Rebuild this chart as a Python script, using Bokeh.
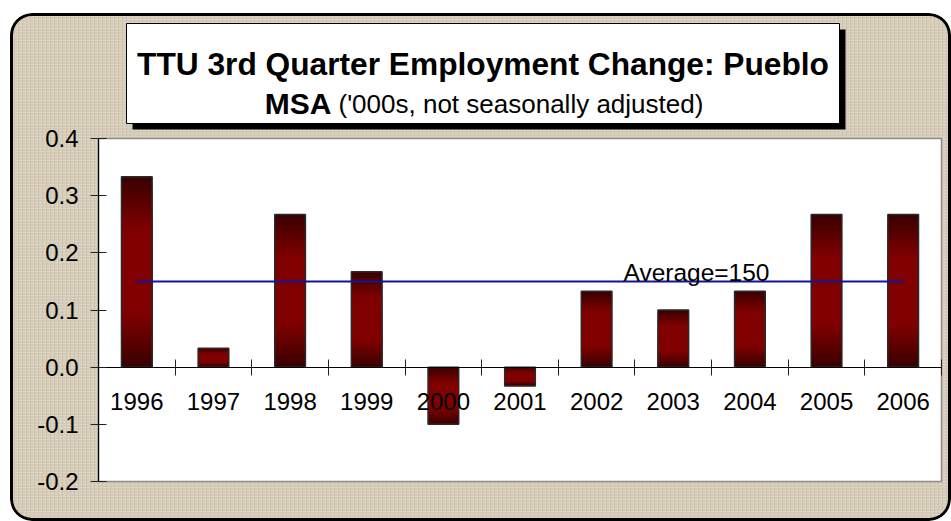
from bokeh.plotting import figure
from bokeh.models import Range1d, FixedTicker, NumeralTickFormatter, Label, ColumnDataSource
from bokeh.embed import file_html
from bokeh.resources import INLINE

# ---- data ----
years = ["1996", "1997", "1998", "1999", "2000", "2001", "2002", "2003", "2004", "2005", "2006"]
changes = [0.333, 0.033, 0.267, 0.167, -0.100, -0.033, 0.133, 0.100, 0.133, 0.267, 0.267]
average = 0.15
average_text = "Average=150"
y_ticks = [-0.2, -0.1, 0.0, 0.1, 0.2, 0.3, 0.4]
title_line1 = "TTU 3rd Quarter Employment Change: Pueblo"
title_line2_bold = "MSA"
title_line2_rest = "('000s, not seasonally adjusted)"

FONT = "Liberation Sans"
n = len(years)
xpos = list(range(1, n + 1))

# ---- layout (page pixels) ----
PANEL_L, PANEL_T = 10, 13          # panel offset on the page
W, H = 951 - PANEL_L, 521 - PANEL_T
PA_L, PA_R, PA_T, PA_B = 98, 941, 138, 481   # plot area on the page
x_lo, x_hi = 0.5, n + 0.5
y_lo, y_hi = y_ticks[0], y_ticks[-1]
ppx = (PA_R - PA_L) / (x_hi - x_lo)
ppy = (PA_B - PA_T) / (y_hi - y_lo)


def X(px):
    return x_lo + (px - PA_L) / ppx


def Y(py):
    return y_hi - (py - PA_T) / ppy


texture = ("repeating-linear-gradient(90deg, rgba(120,100,70,0.10) 0px, rgba(120,100,70,0.10) 1px, "
           "transparent 1px, transparent 4px), "
           "repeating-linear-gradient(0deg, rgba(255,255,255,0.18) 0px, rgba(255,255,255,0.18) 1px, "
           "transparent 1px, transparent 3px), #d6ccb7")

p = figure(width=W, height=H, output_backend="svg", toolbar_location=None,
           x_range=Range1d(X(PANEL_L), X(951)), y_range=Range1d(Y(521), Y(PANEL_T)),
           min_border=0, min_border_left=0, min_border_right=0,
           min_border_top=0, min_border_bottom=0)
p.margin = (PANEL_T, 0, 0, PANEL_L)
p.styles = {"border-radius": "22px", "overflow": "hidden", "background": texture,
            "box-shadow": "inset 0 0 0 3px black"}
p.border_fill_color = None
p.background_fill_color = None
p.outline_line_color = None
p.xgrid.visible = False
p.ygrid.visible = False

# plot area
p.quad(left=[x_lo], right=[x_hi], bottom=[y_lo], top=[y_hi], fill_color="white",
       line_color="#8c8c8c", line_width=1.5)

# gradient bars: nested layers from the zero line outward (largest first)
n_slices = 30
sx, st, sc = [], [], []
dark = (0x38, 0x00, 0x00)
bright = (0x80, 0x00, 0x00)
for x, v in zip(xpos, changes):
    for k in reversed(range(n_slices)):
        t0, t1 = k / n_slices, (k + 1) / n_slices
        mid = (t0 + t1) / 2
        f = min(1.0, 1.8 * (1 - abs(2 * mid - 1)))
        col = tuple(int(d + (b - d) * f) for d, b in zip(dark, bright))
        sx.append(x)
        st.append(v * t1)
        sc.append("#%02x%02x%02x" % col)
p.vbar(x=sx, bottom=0, top=st, width=0.4, fill_color=sc, line_color=None)
src = ColumnDataSource(dict(x=xpos, top=changes))
p.vbar(x="x", top="top", bottom=0, width=0.4, source=src, fill_color=None,
       line_color="#2a2a2a", line_width=1.5)

# average line
p.line(x=[xpos[0], xpos[-1]], y=[average, average], line_color="#12129c", line_width=2)
p.add_layout(Label(x=X(623), y=Y(272), text=average_text, text_align="left",
                   text_baseline="alphabetic", text_font=FONT, text_font_size="24.5px",
                   text_color="black"))

# y axis on the plot-area edge
ya = p.yaxis[0]
ya.fixed_location = x_lo
ya.bounds = (y_lo, y_hi)
ya.ticker = FixedTicker(ticks=y_ticks)
ya.formatter = NumeralTickFormatter(format="0.0")
ya.axis_line_color = "black"
ya.axis_line_width = 1.2
ya.major_tick_in = 8
ya.major_tick_out = 8
ya.major_tick_line_color = "#222222"
ya.minor_tick_line_color = None
ya.major_label_standoff = 12
ya.major_label_text_font = FONT
ya.major_label_text_font_size = "24px"
ya.major_label_text_color = "black"

# x axis on the zero line: labels at categories, ticks between them
boundaries = [i + 0.5 for i in range(n + 1)]
xa = p.xaxis[0]
xa.fixed_location = 0
xa.bounds = (x_lo, x_hi)
xa.ticker = FixedTicker(ticks=xpos, minor_ticks=boundaries)
xa.major_label_overrides = {x: y for x, y in zip(xpos, years)}
xa.major_tick_line_color = None
xa.major_tick_in = 0
xa.major_tick_out = 0
xa.minor_tick_in = 8
xa.minor_tick_out = 8
xa.minor_tick_line_color = "#222222"
xa.axis_line_color = "black"
xa.axis_line_width = 1.2
xa.major_label_standoff = 18
xa.major_label_text_font = FONT
xa.major_label_text_font_size = "24px"
xa.major_label_text_color = "black"

# title box: shadow + white box
p.quad(left=[X(132)], right=[X(845)], top=[Y(29)], bottom=[Y(129)],
       fill_color="black", line_color=None)
p.quad(left=[X(126)], right=[X(839)], top=[Y(23)], bottom=[Y(123)],
       fill_color="white", line_color="black", line_width=1)
p.add_layout(Label(x=X(482.5), y=Y(63), text=title_line1,
                   text_align="center", text_baseline="alphabetic", text_font=FONT,
                   text_font_size="31.7px", text_font_style="bold", text_color="black"))
p.add_layout(Label(x=X(331), y=Y(103), text=title_line2_bold,
                   text_align="right", text_baseline="alphabetic", text_font=FONT,
                   text_font_size="30px", text_font_style="bold", text_color="black"))
p.add_layout(Label(x=X(338), y=Y(103), text=title_line2_rest,
                   text_align="left", text_baseline="alphabetic", text_font=FONT,
                   text_font_size="26px", text_color="black"))

open("out.html", "w").write(file_html(p, INLINE))
